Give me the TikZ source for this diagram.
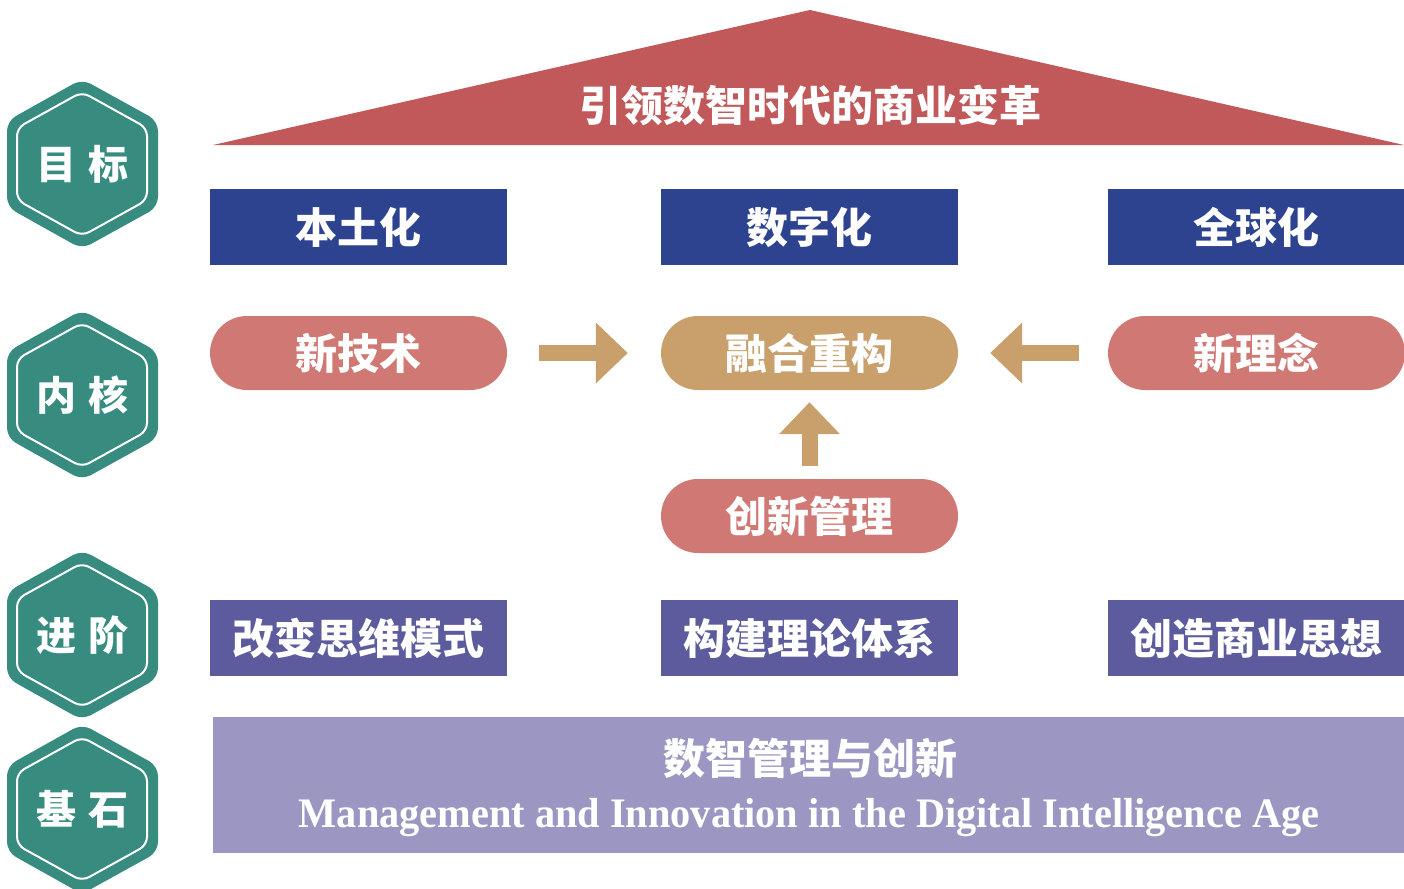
\documentclass[tikz,border=0pt]{standalone}
\usepackage{fontspec}
\newfontfamily\cjk{Noto Sans CJK SC}
\newfontfamily\enserif{Liberation Serif}
\usetikzlibrary{shapes.misc,arrows.meta,positioning}
\definecolor{hexteal}{HTML}{378C7F}
\definecolor{roofred}{HTML}{C1585A}
\definecolor{goalblue}{HTML}{2D4390}
\definecolor{corepink}{HTML}{D07873}
\definecolor{coregold}{HTML}{C9A06B}
\definecolor{stepblue}{HTML}{5B5B9D}
\definecolor{baselilac}{HTML}{9B97C2}
\tikzset{
  lbl/.style={text=white, inner sep=0pt, font=\cjk\bfseries\fontsize{42}{42}\selectfont},
  goalbox/.style={lbl, fill=goalblue, minimum width=297pt, minimum height=76pt},
  stepbox/.style={goalbox, fill=stepblue},
  corepill/.style={lbl, rounded rectangle, fill=#1, minimum width=297pt, minimum height=74pt},
  fatarrow/.style={coregold, line width=16pt, -{Triangle[length=32pt,width=59pt]}}
}
\begin{document}
\begin{tikzpicture}[x=1pt,y=-1pt]
\useasboundingbox (0,0) rectangle (1404,888);
% hexagon badges on the left
\foreach \cy/\nm/\txt in {164/hgoal/{目\hspace{.3em}标}, 395/hcore/{内\hspace{.3em}核},
                         635/hstep/{进\hspace{.3em}阶}, 809/hbase/{基\hspace{.3em}石}}{
  \fill[hexteal, rounded corners=10pt] (82,\cy-85) -- (158,\cy-43) -- (158,\cy+43)
    -- (82,\cy+85) -- (7,\cy+43) -- (7,\cy-43) -- cycle;
  \draw[white, line width=2pt, rounded corners=8pt] (82,\cy-72) -- (147,\cy-36) -- (147,\cy+36)
    -- (82,\cy+72) -- (17,\cy+36) -- (17,\cy-36) -- cycle;
  \node[lbl, font=\cjk\bfseries\fontsize{40}{40}\selectfont] (\nm) at (82,\cy) {\txt};
}
% roof
\fill[roofred] (213,145) -- (810,10) -- (1404,145) -- cycle;
\node[lbl] (roof) at (810,105) {引领数智时代的商业变革};
% goals
\node[goalbox] (local) at (358.5,227) {本土化};
\node[goalbox] (digital) at (809.5,227) {数字化};
\node[goalbox] (global) at (1256.5,227) {全球化};
% core
\node[corepill=corepink] (tech) at (358.5,353) {新技术};
\node[corepill=coregold] (fuse) at (809.5,353) {融合重构};
\node[corepill=corepink] (idea) at (1256.5,353) {新理念};
\node[corepill=corepink] (innov) at (809.5,516) {创新管理};
\draw[fatarrow, shorten <=32pt, shorten >=33pt] (tech.east) -- (fuse.west);
\draw[fatarrow, shorten <=29pt, shorten >=32pt] (idea.west) -- (fuse.east);
\draw[fatarrow, shorten <=13pt, shorten >=12pt] (innov.north) -- (fuse.south);
% steps
\node[stepbox] (mind) at (358.5,638) {改变思维模式};
\node[stepbox] (theory) at (809.5,638) {构建理论体系};
\node[stepbox] (thought) at (1256.5,638) {创造商业思想};
% foundation
\node[fill=baselilac, minimum width=1191pt, minimum height=136pt, inner sep=0pt] (base) at (808.5,785) {};
\node[lbl] (basecn) at (810,758) {数智管理与创新};
\node[text=white, inner sep=0pt, anchor=base, font=\enserif\bfseries\fontsize{42}{42}\selectfont] (baseen) at (809,827)
  {\scalebox{0.96}[1]{Management and Innovation in the Digital Intelligence Age}};
\end{tikzpicture}
\end{document}
